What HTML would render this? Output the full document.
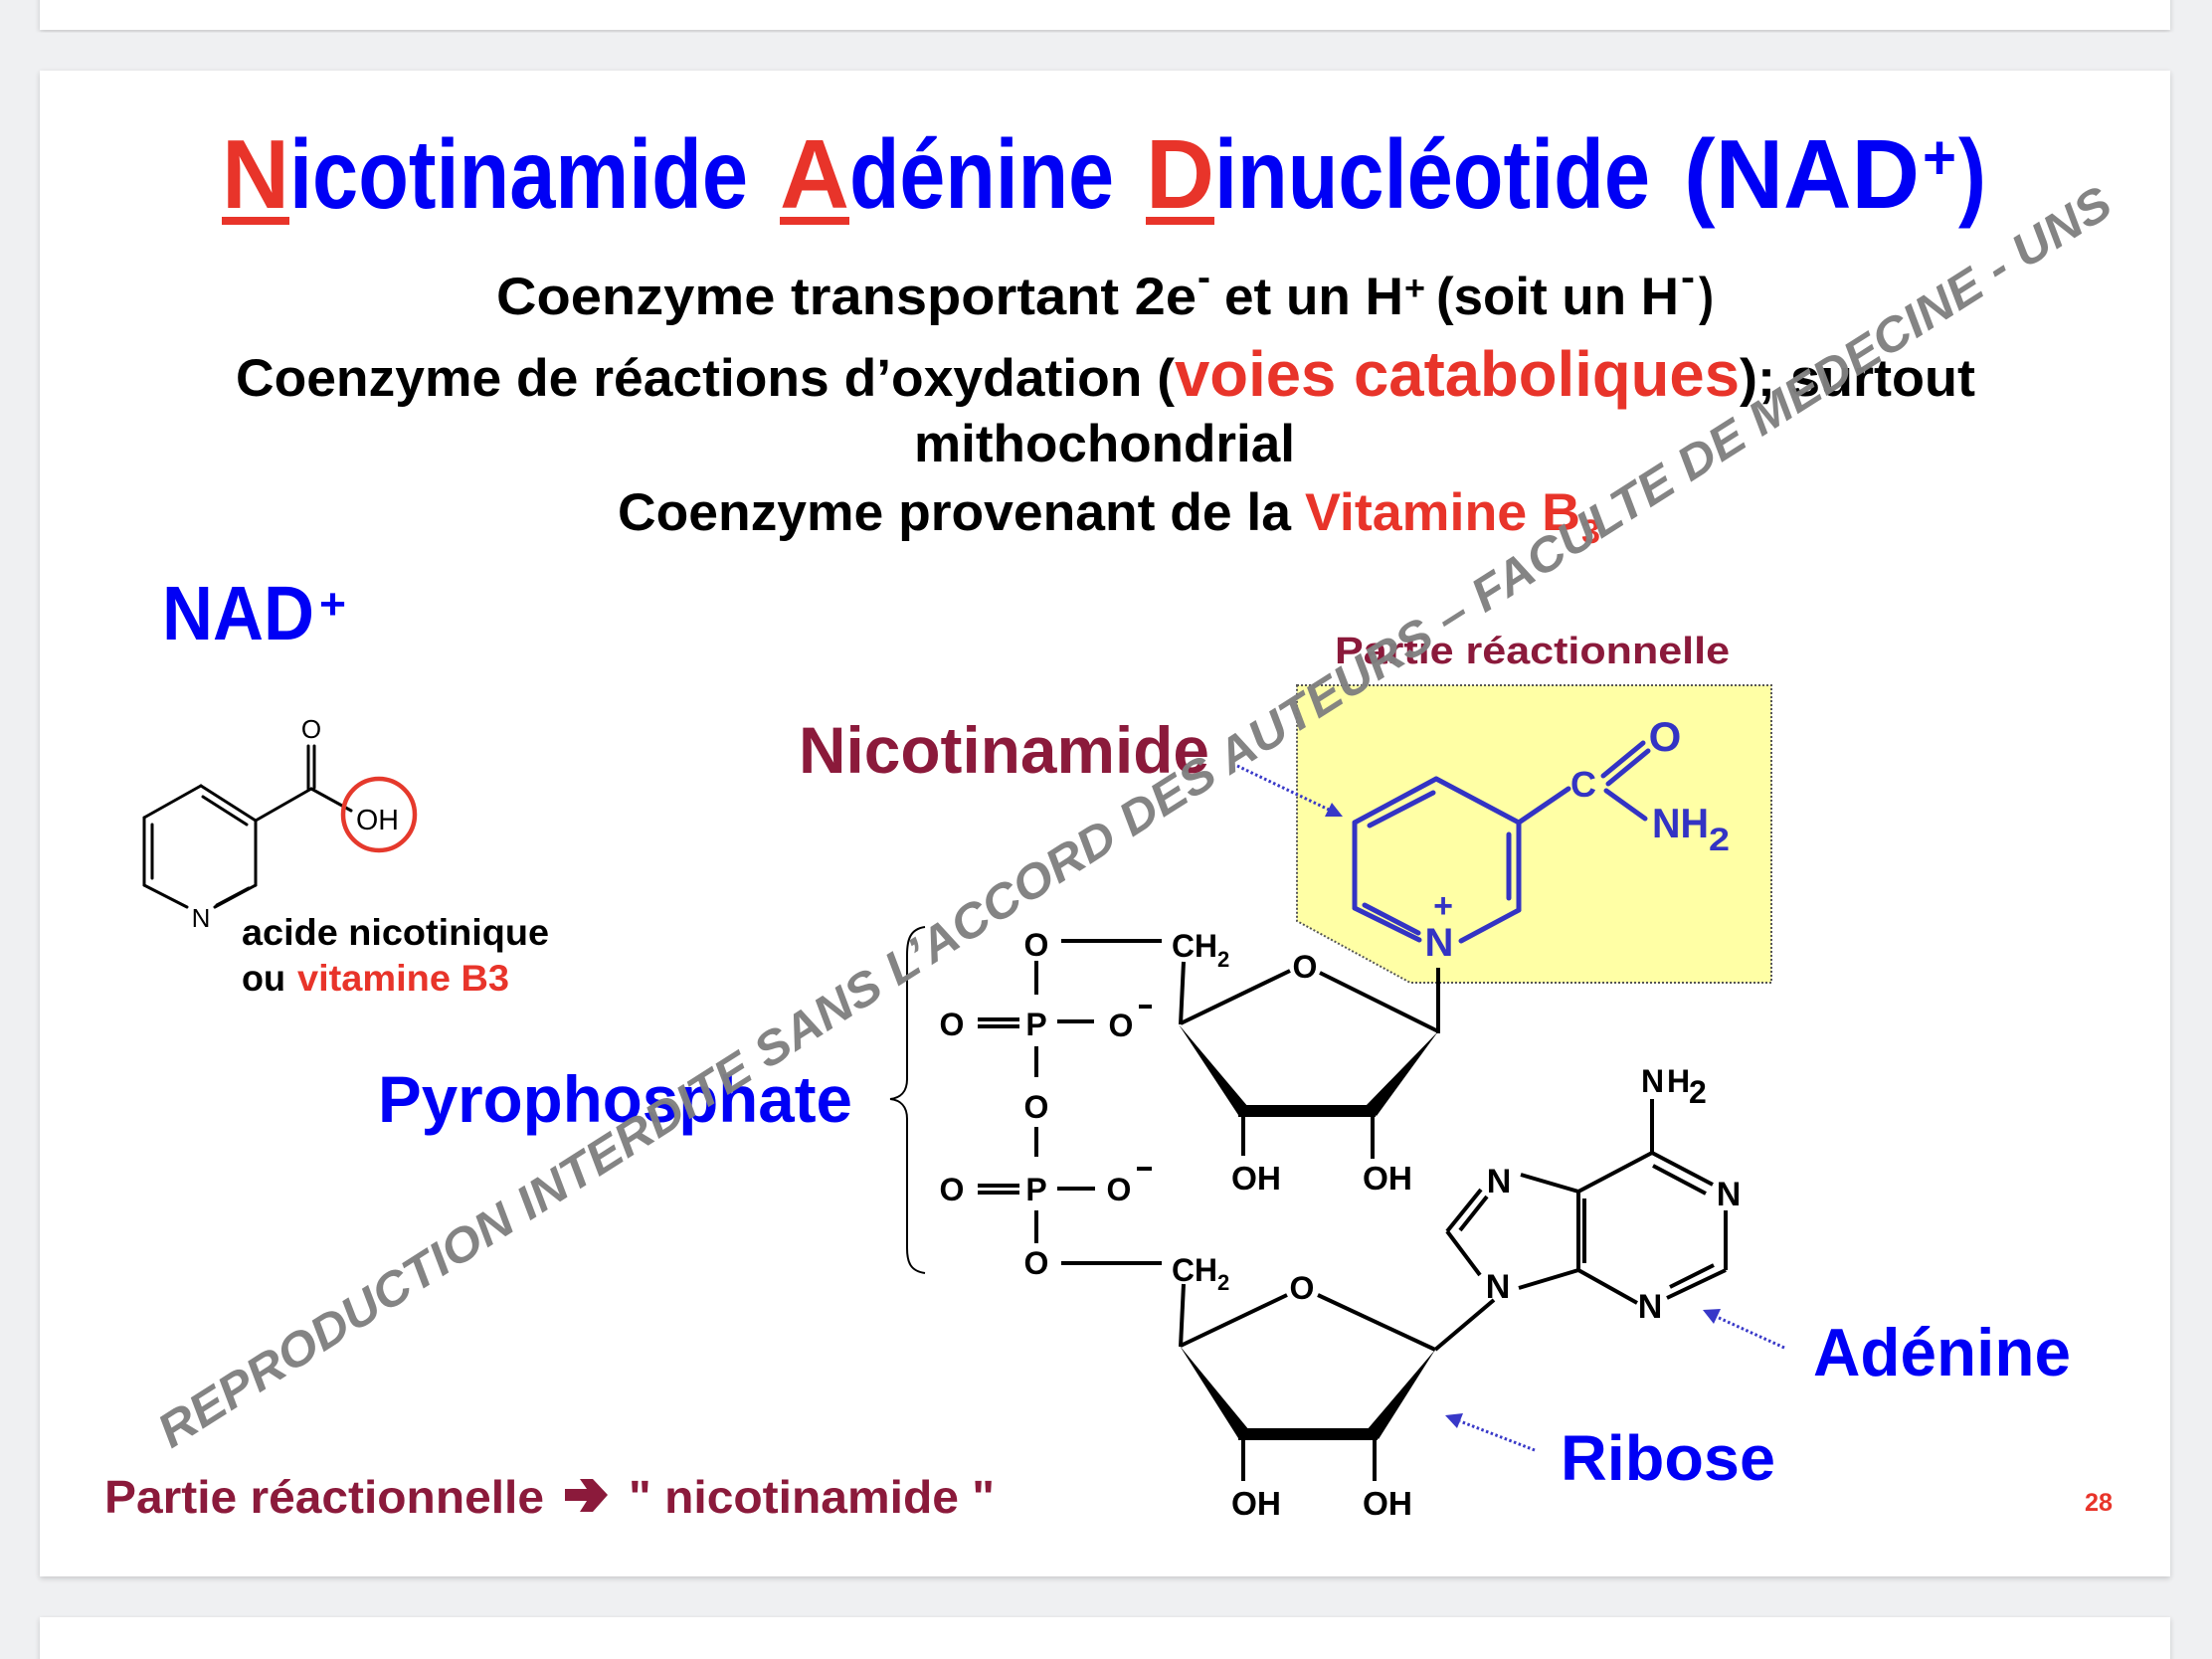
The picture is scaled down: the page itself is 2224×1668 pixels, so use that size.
<!DOCTYPE html>
<html>
<head>
<meta charset="utf-8">
<style>
  html,body{margin:0;padding:0;background:#eff0f2;}
  svg{display:block;}
  text{font-family:"Liberation Sans", Arial, sans-serif;font-weight:bold;}
</style>
</head>
<body>
<svg width="2224" height="1668" viewBox="0 0 2224 1668" xmlns="http://www.w3.org/2000/svg">
  <defs>
    <filter id="sh" x="-5%" y="-5%" width="110%" height="110%">
      <feGaussianBlur in="SourceAlpha" stdDeviation="3"/>
      <feOffset dx="0" dy="2"/>
      <feComponentTransfer><feFuncA type="linear" slope="0.18"/></feComponentTransfer>
      <feMerge><feMergeNode/><feMergeNode in="SourceGraphic"/></feMerge>
    </filter>
  </defs>
  <rect x="0" y="0" width="2224" height="1668" fill="#eff0f2"/>
  <!-- cards -->
  <rect x="40" y="-20" width="2142" height="50" fill="#ffffff" filter="url(#sh)"/>
  <rect x="40" y="71" width="2142" height="1514" fill="#ffffff" filter="url(#sh)"/>
  <rect x="40" y="1626" width="2142" height="80" fill="#ffffff" filter="url(#sh)"/>

  <!-- Title -->
  <g font-size="98">
    <text x="223" y="209" fill="#e8342a" textLength="68" lengthAdjust="spacingAndGlyphs">N</text>
    <text x="291" y="209" fill="#0000f5" textLength="461" lengthAdjust="spacingAndGlyphs">icotinamide</text>
    <text x="784" y="209" fill="#e8342a" textLength="70" lengthAdjust="spacingAndGlyphs">A</text>
    <text x="854" y="209" fill="#0000f5" textLength="266" lengthAdjust="spacingAndGlyphs">dénine</text>
    <text x="1152" y="209" fill="#e8342a" textLength="69" lengthAdjust="spacingAndGlyphs">D</text>
    <text x="1221" y="209" fill="#0000f5" textLength="438" lengthAdjust="spacingAndGlyphs">inucléotide</text>
    <text x="1693" y="209" fill="#0000f5" textLength="237" lengthAdjust="spacingAndGlyphs">(NAD</text>
    <text x="1933" y="180" fill="#0000f5" font-size="64" textLength="34" lengthAdjust="spacingAndGlyphs">+</text>
    <text x="1969" y="209" fill="#0000f5" textLength="28" lengthAdjust="spacingAndGlyphs">)</text>
  </g>
  <rect x="223" y="218" width="68" height="8" fill="#e8342a"/>
  <rect x="784" y="218" width="70" height="8" fill="#e8342a"/>
  <rect x="1152" y="218" width="69" height="8" fill="#e8342a"/>

  <!-- Line 2 -->
  <g font-size="53" fill="#000">
    <text x="499" y="316" textLength="704" lengthAdjust="spacingAndGlyphs">Coenzyme  transportant  2e</text>
    <text x="1204" y="292" font-size="40" textLength="13" lengthAdjust="spacingAndGlyphs">-</text>
    <text x="1231" y="316" textLength="180" lengthAdjust="spacingAndGlyphs">et un H</text>
    <text x="1412" y="301" font-size="34" textLength="21" lengthAdjust="spacingAndGlyphs">+</text>
    <text x="1444" y="316" textLength="244" lengthAdjust="spacingAndGlyphs">(soit un H</text>
    <text x="1690" y="292" font-size="40" textLength="14" lengthAdjust="spacingAndGlyphs">-</text>
    <text x="1708" y="316" textLength="15" lengthAdjust="spacingAndGlyphs">)</text>
  </g>
  <!-- Line 3 -->
  <g font-size="53" fill="#000">
    <text x="237" y="398" textLength="944" lengthAdjust="spacingAndGlyphs">Coenzyme de réactions d’oxydation (</text>
    <text x="1181" y="398" font-size="64" fill="#e8342a" textLength="568" lengthAdjust="spacingAndGlyphs">voies cataboliques</text>
    <text x="1749" y="398" textLength="237" lengthAdjust="spacingAndGlyphs">); surtout</text>
    <text x="919" y="464" textLength="383" lengthAdjust="spacingAndGlyphs">mithochondrial</text>
    <text x="621" y="533" textLength="677" lengthAdjust="spacingAndGlyphs">Coenzyme provenant de la</text>
    <text x="1312" y="533" fill="#e8342a" textLength="277" lengthAdjust="spacingAndGlyphs">Vitamine B</text>
    <text x="1590" y="546" font-size="34" fill="#e8342a" textLength="19" lengthAdjust="spacingAndGlyphs">3</text>
  </g>

  <!-- NAD+ -->
  <text x="163" y="643" font-size="77" fill="#0000f5" textLength="153" lengthAdjust="spacingAndGlyphs">NAD</text>
  <text x="321" y="622" font-size="44" fill="#0000f5" textLength="27" lengthAdjust="spacingAndGlyphs">+</text>

  <!-- Nicotinic acid -->
  <g stroke="#000" stroke-width="3" fill="none" stroke-linecap="round">
    <line x1="145" y1="822" x2="202" y2="790"/>
    <line x1="202" y1="790" x2="257" y2="825"/>
    <line x1="257" y1="825" x2="257" y2="890"/>
    <line x1="257" y1="890" x2="216" y2="912"/>
    <line x1="188" y1="912" x2="145" y2="890"/>
    <line x1="145" y1="890" x2="145" y2="822"/>
    <line x1="204" y1="801" x2="248" y2="829"/>
    <line x1="153" y1="829" x2="153" y2="883"/>
    <line x1="218" y1="910" x2="250" y2="893"/>
    <line x1="257" y1="825" x2="313" y2="793"/>
    <line x1="310" y1="750" x2="310" y2="793"/>
    <line x1="316" y1="750" x2="316" y2="792"/>
    <line x1="313" y1="793" x2="353" y2="815"/>
  </g>
  <g font-weight="normal" fill="#000">
    <text x="313" y="742" font-size="26" text-anchor="middle" style="font-weight:normal">O</text>
    <text x="202" y="932" font-size="26" text-anchor="middle" style="font-weight:normal">N</text>
    <text x="358" y="834" font-size="29" style="font-weight:normal" textLength="43" lengthAdjust="spacingAndGlyphs">OH</text>
  </g>
  <circle cx="381" cy="819" r="36" fill="none" stroke="#e5392c" stroke-width="4.5"/>
  <text x="243" y="950" font-size="37" fill="#000" textLength="309" lengthAdjust="spacingAndGlyphs">acide nicotinique</text>
  <text x="243" y="996" font-size="37" fill="#000" textLength="44" lengthAdjust="spacingAndGlyphs">ou</text>
  <text x="299" y="996" font-size="37" fill="#e8342a" textLength="213" lengthAdjust="spacingAndGlyphs">vitamine B3</text>

  <!-- Labels -->
  <text x="803" y="777" font-size="66" fill="#8b1a3b" textLength="413" lengthAdjust="spacingAndGlyphs">Nicotinamide</text>
  <text x="1342" y="667" font-size="38" fill="#8b1a3b" textLength="397" lengthAdjust="spacingAndGlyphs">Partie réactionnelle</text>
  <text x="380" y="1128" font-size="66" fill="#0000f5" textLength="477" lengthAdjust="spacingAndGlyphs">Pyrophosphate</text>
  <text x="1823" y="1383" font-size="68" fill="#0000f5" textLength="259" lengthAdjust="spacingAndGlyphs">Adénine</text>
  <text x="1569" y="1488" font-size="64" fill="#0000f5" textLength="216" lengthAdjust="spacingAndGlyphs">Ribose</text>
  <text x="2096" y="1519" font-size="25" fill="#e8342a" textLength="28" lengthAdjust="spacingAndGlyphs">28</text>
  <text x="105" y="1521" font-size="46" fill="#8b1a3b" textLength="442" lengthAdjust="spacingAndGlyphs">Partie réactionnelle</text>
  <polygon points="568,1497 590,1497 583,1487 596,1487 611,1503 596,1520 583,1520 590,1509 568,1509" fill="#8b1a3b"/>
  <text x="632" y="1521" font-size="46" fill="#8b1a3b" textLength="368" lengthAdjust="spacingAndGlyphs">" nicotinamide "</text>

  <!-- Yellow box -->
  <polygon points="1304,689 1781,689 1781,988 1418,988 1304,926" fill="#ffffa5" stroke="#555" stroke-width="2" stroke-dasharray="2,2"/>

  <!-- Nicotinamide ring (blue) -->
  <g stroke="#3333c4" stroke-width="5" fill="none" stroke-linecap="round">
    <line x1="1362" y1="827" x2="1444" y2="783"/>
    <line x1="1444" y1="783" x2="1527" y2="827"/>
    <line x1="1527" y1="827" x2="1527" y2="915"/>
    <line x1="1527" y1="915" x2="1469" y2="946"/>
    <line x1="1427" y1="945" x2="1362" y2="913"/>
    <line x1="1362" y1="913" x2="1362" y2="827"/>
    <line x1="1377" y1="830" x2="1441" y2="797"/>
    <line x1="1517" y1="839" x2="1517" y2="903"/>
    <line x1="1372" y1="910" x2="1426" y2="938"/>
    <line x1="1527" y1="827" x2="1577" y2="793"/>
    <line x1="1612" y1="780" x2="1652" y2="747"/>
    <line x1="1617" y1="788" x2="1657" y2="755"/>
    <line x1="1615" y1="795" x2="1654" y2="823"/>
  </g>
  <g fill="#3333c4">
    <text x="1447" y="961" font-size="40" text-anchor="middle">N</text>
    <text x="1451" y="922" font-size="34" text-anchor="middle">+</text>
    <text x="1592" y="801" font-size="36" text-anchor="middle">C</text>
    <text x="1674" y="755" font-size="42" text-anchor="middle">O</text>
    <text x="1661" y="842" font-size="42" textLength="57" lengthAdjust="spacingAndGlyphs">NH</text>
    <text x="1718" y="855" font-size="32" textLength="21" lengthAdjust="spacingAndGlyphs">2</text>
  </g>

  <!-- Black structure -->
  <g stroke="#000" stroke-width="4" fill="none" stroke-linecap="butt">
    <!-- phosphate -->
    <line x1="1067" y1="946" x2="1168" y2="946"/>
    <line x1="1067" y1="1270" x2="1168" y2="1270"/>
    <line x1="1042" y1="966" x2="1042" y2="1000"/>
    <line x1="1042" y1="1052" x2="1042" y2="1083"/>
    <line x1="1042" y1="1133" x2="1042" y2="1163"/>
    <line x1="1042" y1="1217" x2="1042" y2="1250"/>
    <line x1="983" y1="1025" x2="1025" y2="1025"/>
    <line x1="983" y1="1032" x2="1025" y2="1032"/>
    <line x1="983" y1="1192" x2="1025" y2="1192"/>
    <line x1="983" y1="1199" x2="1025" y2="1199"/>
    <line x1="1063" y1="1027" x2="1100" y2="1027"/>
    <line x1="1063" y1="1195" x2="1101" y2="1195"/>
    <!-- upper ribose -->
    <line x1="1190" y1="967" x2="1187" y2="1030"/>
    <line x1="1187" y1="1029" x2="1297" y2="976"/>
    <line x1="1327" y1="978" x2="1446" y2="1037"/>
    <line x1="1446" y1="1039" x2="1446" y2="973"/>
    <line x1="1250" y1="1120" x2="1250" y2="1162"/>
    <line x1="1380" y1="1120" x2="1380" y2="1165"/>
    <!-- lower ribose -->
    <line x1="1190" y1="1291" x2="1187" y2="1354"/>
    <line x1="1187" y1="1353" x2="1294" y2="1302"/>
    <line x1="1325" y1="1302" x2="1443" y2="1357"/>
    <line x1="1443" y1="1357" x2="1502" y2="1307"/>
    <line x1="1250" y1="1446" x2="1250" y2="1489"/>
    <line x1="1382" y1="1446" x2="1382" y2="1489"/>
    <!-- adenine -->
    <line x1="1661" y1="1105" x2="1661" y2="1159"/>
    <line x1="1587" y1="1198" x2="1661" y2="1159"/>
    <line x1="1661" y1="1159" x2="1722" y2="1191"/>
    <line x1="1662" y1="1172" x2="1715" y2="1200"/>
    <line x1="1735" y1="1217" x2="1735" y2="1277"/>
    <line x1="1735" y1="1277" x2="1676" y2="1305"/>
    <line x1="1723" y1="1272" x2="1679" y2="1294"/>
    <line x1="1646" y1="1310" x2="1587" y2="1277"/>
    <line x1="1587" y1="1277" x2="1587" y2="1198"/>
    <line x1="1593" y1="1205" x2="1593" y2="1270"/>
    <line x1="1529" y1="1181" x2="1587" y2="1198"/>
    <line x1="1455" y1="1238" x2="1489" y2="1196"/>
    <line x1="1468" y1="1237" x2="1495" y2="1203"/>
    <line x1="1455" y1="1238" x2="1488" y2="1282"/>
    <line x1="1527" y1="1295" x2="1587" y2="1277"/>
  </g>
  <!-- wedges and bars -->
  <g fill="#000">
    <polygon points="1185,1030 1255,1113 1245,1121"/>
    <rect x="1245" y="1111" width="138" height="12"/>
    <polygon points="1446,1037 1384,1122 1372,1113"/>
    <polygon points="1186,1353 1256,1438 1245,1446"/>
    <rect x="1245" y="1436" width="140" height="12"/>
    <polygon points="1443,1357 1386,1447 1374,1438"/>
  </g>
  <!-- brace -->
  <path d="M930,932 C915,934 912,945 912,960 L912,1085 C912,1098 905,1104 895,1105 C905,1106 912,1112 912,1125 L912,1255 C912,1270 916,1278 930,1280" fill="none" stroke="#000" stroke-width="2"/>

  <!-- black chem labels -->
  <g fill="#000" font-size="32" text-anchor="middle">
    <text x="1042" y="961">O</text>
    <text x="957" y="1041">O</text>
    <text x="1042" y="1041">P</text>
    <text x="1127" y="1042">O</text>
    <text x="1042" y="1124">O</text>
    <text x="957" y="1207">O</text>
    <text x="1042" y="1207">P</text>
    <text x="1125" y="1207">O</text>
    <text x="1042" y="1281">O</text>
    <text x="1312" y="983">O</text>
    <text x="1309" y="1306">O</text>
  </g>
  <rect x="1145" y="1010" width="13" height="4" fill="#000"/>
  <rect x="1143" y="1173" width="15" height="4" fill="#000"/>
  <g fill="#000" font-size="32">
    <text x="1178" y="962" textLength="46" lengthAdjust="spacingAndGlyphs">CH</text>
    <text x="1224" y="972" font-size="22">2</text>
    <text x="1178" y="1288" textLength="46" lengthAdjust="spacingAndGlyphs">CH</text>
    <text x="1224" y="1297" font-size="22">2</text>
  </g>
  <g fill="#000" font-size="33">
    <text x="1238" y="1196" textLength="50" lengthAdjust="spacingAndGlyphs">OH</text>
    <text x="1370" y="1196" textLength="50" lengthAdjust="spacingAndGlyphs">OH</text>
    <text x="1238" y="1523" textLength="50" lengthAdjust="spacingAndGlyphs">OH</text>
    <text x="1370" y="1523" textLength="50" lengthAdjust="spacingAndGlyphs">OH</text>
  </g>
  <g fill="#000" font-size="34" text-anchor="middle">
    <text x="1507" y="1199">N</text>
    <text x="1506" y="1305">N</text>
    <text x="1738" y="1212">N</text>
    <text x="1659" y="1325">N</text>
  </g>
  <g fill="#000" font-size="32">
    <text x="1650" y="1098">N</text>
    <text x="1676" y="1098">H</text>
    <text x="1698" y="1109">2</text>
  </g>

  <!-- blue dotted arrows -->
  <g stroke="#3838c8" stroke-width="3" stroke-dasharray="2.5,2.5" fill="none">
    <line x1="1244" y1="770" x2="1336" y2="814"/>
    <line x1="1794" y1="1355" x2="1726" y2="1324"/>
    <line x1="1543" y1="1458" x2="1468" y2="1429"/>
  </g>
  <g fill="#3838c8">
    <polygon points="1350,821 1332,821 1339,807"/>
    <polygon points="1712,1317 1730,1316 1723,1331"/>
    <polygon points="1453,1423 1471,1421 1465,1436"/>
  </g>

  <!-- Watermark -->
  <text transform="translate(172,1457) rotate(-32.47)" x="0" y="0" font-size="48" font-style="italic" fill="#808080" fill-opacity="0.97" textLength="2317" lengthAdjust="spacingAndGlyphs">REPRODUCTION INTERDITE SANS L’ACCORD DES AUTEURS – FACULTE DE MEDECINE - UNS</text>
</svg>
</body>
</html>
